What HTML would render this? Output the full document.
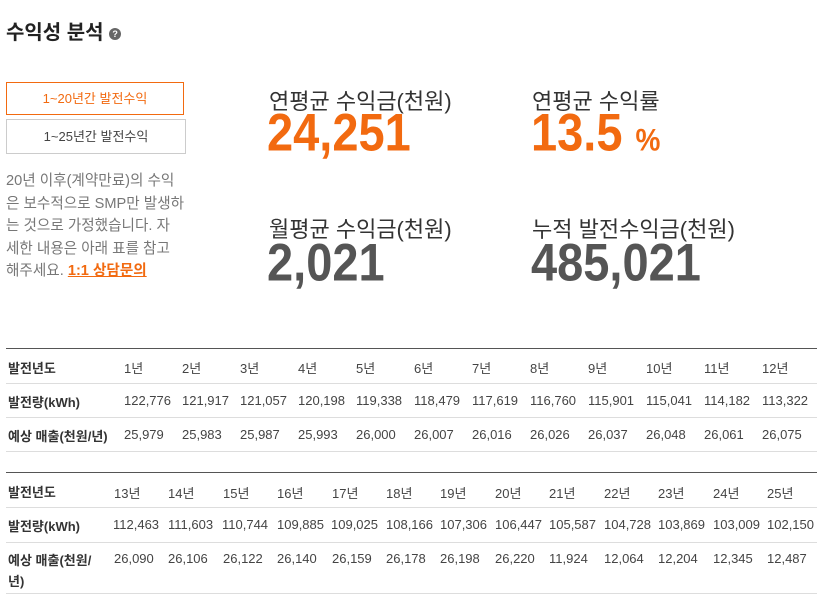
<!DOCTYPE html>
<html><head><meta charset="utf-8"><style>
body{margin:0;width:830px;height:601px;background:#fff;position:relative;overflow:hidden;font-family:"Liberation Sans","Noto Sans CJK KR",sans-serif;color:#333}
.a{position:absolute;white-space:nowrap}
.t{font-size:13px;color:#444}
.h{font-weight:bold;color:#333;font-size:13px}
.lbl{font-size:22px;color:#333}
.big{font-size:47px;font-weight:bold;letter-spacing:0;line-height:52px;transform:scaleY(1.13);transform-origin:0 0}
.or{color:#f26a10}.gr{color:#555}
.line{position:absolute;left:6px;width:811px;height:1px;background:#ddd}
.dk{background:#555;height:1px}
</style></head><body>
<div class="a" style="left:6px;top:16px;font-size:20px;font-weight:bold;color:#222">수익성 분석 <span style="display:inline-block;width:12px;height:12px;border-radius:50%;background:#666;color:#fff;font-size:9px;text-align:center;line-height:12px;vertical-align:2px">?</span></div>
<div class="a" style="left:6px;top:82px;width:178px;height:33px;border:1px solid #f26a10;box-sizing:border-box;text-align:center;line-height:31px;font-size:13px;color:#f26a10">1~20년간 발전수익</div>
<div class="a" style="left:6px;top:119px;width:180px;height:35px;border:1px solid #ccc;box-sizing:border-box;text-align:center;line-height:33px;font-size:13px;color:#444">1~25년간 발전수익</div>
<div class="a" style="left:6px;top:170px;font-size:14.6px;line-height:22.5px;color:#777;white-space:normal;width:190px">20년 이후(계약만료)의 수익<br>은 보수적으로 SMP만 발생하<br>는 것으로 가정했습니다. 자<br>세한 내용은 아래 표를 참고<br>해주세요. <span style="color:#f26a10;font-weight:bold;text-decoration:underline">1:1 상담문의</span></div>

<div class="a lbl" style="left:269px;top:84px">연평균 수익금(천원)</div>
<div class="a big or" style="left:267px;top:103px">24,251</div>
<div class="a lbl" style="left:532px;top:84px">연평균 수익률</div>
<div class="a big or" style="left:531px;top:103px">13.5 <span style="font-size:28px;letter-spacing:0">%</span></div>
<div class="a lbl" style="left:269px;top:212px">월평균 수익금(천원)</div>
<div class="a big gr" style="left:267px;top:233px">2,021</div>
<div class="a lbl" style="left:532px;top:212px">누적 발전수익금(천원)</div>
<div class="a big gr" style="left:531px;top:233px">485,021</div>

<div class="line dk" style="top:348px"></div>
<div class="line" style="top:383px"></div>
<div class="line" style="top:417px"></div>
<div class="line" style="top:451px"></div>
<div class="line dk" style="top:472px"></div>
<div class="line" style="top:507px"></div>
<div class="line" style="top:542px"></div>
<div class="line" style="top:593px"></div>

<div class="a h" style="left:8px;top:358px">발전년도</div>
<div class="a h" style="left:8px;top:392px">발전량(kWh)</div>
<div class="a h" style="left:8px;top:426px">예상 매출(천원/년)</div>
<div class="a h" style="left:8px;top:482px">발전년도</div>
<div class="a h" style="left:8px;top:516px">발전량(kWh)</div>
<div class="a h" style="left:8px;top:550px;line-height:21px">예상 매출(천원/<br>년)</div>

<div class="a t" style="left:124px;top:358px">1년</div><div class="a t" style="left:182px;top:358px">2년</div><div class="a t" style="left:240px;top:358px">3년</div><div class="a t" style="left:298px;top:358px">4년</div><div class="a t" style="left:356px;top:358px">5년</div><div class="a t" style="left:414px;top:358px">6년</div><div class="a t" style="left:472px;top:358px">7년</div><div class="a t" style="left:530px;top:358px">8년</div><div class="a t" style="left:588px;top:358px">9년</div><div class="a t" style="left:646px;top:358px">10년</div><div class="a t" style="left:704px;top:358px">11년</div><div class="a t" style="left:762px;top:358px">12년</div>
<div class="a t" style="left:124px;top:393px">122,776</div><div class="a t" style="left:182px;top:393px">121,917</div><div class="a t" style="left:240px;top:393px">121,057</div><div class="a t" style="left:298px;top:393px">120,198</div><div class="a t" style="left:356px;top:393px">119,338</div><div class="a t" style="left:414px;top:393px">118,479</div><div class="a t" style="left:472px;top:393px">117,619</div><div class="a t" style="left:530px;top:393px">116,760</div><div class="a t" style="left:588px;top:393px">115,901</div><div class="a t" style="left:646px;top:393px">115,041</div><div class="a t" style="left:704px;top:393px">114,182</div><div class="a t" style="left:762px;top:393px">113,322</div>
<div class="a t" style="left:124px;top:427px">25,979</div><div class="a t" style="left:182px;top:427px">25,983</div><div class="a t" style="left:240px;top:427px">25,987</div><div class="a t" style="left:298px;top:427px">25,993</div><div class="a t" style="left:356px;top:427px">26,000</div><div class="a t" style="left:414px;top:427px">26,007</div><div class="a t" style="left:472px;top:427px">26,016</div><div class="a t" style="left:530px;top:427px">26,026</div><div class="a t" style="left:588px;top:427px">26,037</div><div class="a t" style="left:646px;top:427px">26,048</div><div class="a t" style="left:704px;top:427px">26,061</div><div class="a t" style="left:762px;top:427px">26,075</div>

<div class="a t" style="left:114px;top:483px">13년</div><div class="a t" style="left:168px;top:483px">14년</div><div class="a t" style="left:223px;top:483px">15년</div><div class="a t" style="left:277px;top:483px">16년</div><div class="a t" style="left:332px;top:483px">17년</div><div class="a t" style="left:386px;top:483px">18년</div><div class="a t" style="left:440px;top:483px">19년</div><div class="a t" style="left:495px;top:483px">20년</div><div class="a t" style="left:549px;top:483px">21년</div><div class="a t" style="left:604px;top:483px">22년</div><div class="a t" style="left:658px;top:483px">23년</div><div class="a t" style="left:713px;top:483px">24년</div><div class="a t" style="left:767px;top:483px">25년</div>
<div class="a t" style="left:113px;top:517px">112,463</div><div class="a t" style="left:168px;top:517px">111,603</div><div class="a t" style="left:222px;top:517px">110,744</div><div class="a t" style="left:277px;top:517px">109,885</div><div class="a t" style="left:331px;top:517px">109,025</div><div class="a t" style="left:386px;top:517px">108,166</div><div class="a t" style="left:440px;top:517px">107,306</div><div class="a t" style="left:495px;top:517px">106,447</div><div class="a t" style="left:549px;top:517px">105,587</div><div class="a t" style="left:604px;top:517px">104,728</div><div class="a t" style="left:658px;top:517px">103,869</div><div class="a t" style="left:713px;top:517px">103,009</div><div class="a t" style="left:767px;top:517px">102,150</div>
<div class="a t" style="left:114px;top:551px">26,090</div><div class="a t" style="left:168px;top:551px">26,106</div><div class="a t" style="left:223px;top:551px">26,122</div><div class="a t" style="left:277px;top:551px">26,140</div><div class="a t" style="left:332px;top:551px">26,159</div><div class="a t" style="left:386px;top:551px">26,178</div><div class="a t" style="left:440px;top:551px">26,198</div><div class="a t" style="left:495px;top:551px">26,220</div><div class="a t" style="left:549px;top:551px">11,924</div><div class="a t" style="left:604px;top:551px">12,064</div><div class="a t" style="left:658px;top:551px">12,204</div><div class="a t" style="left:713px;top:551px">12,345</div><div class="a t" style="left:767px;top:551px">12,487</div>
</body></html>
